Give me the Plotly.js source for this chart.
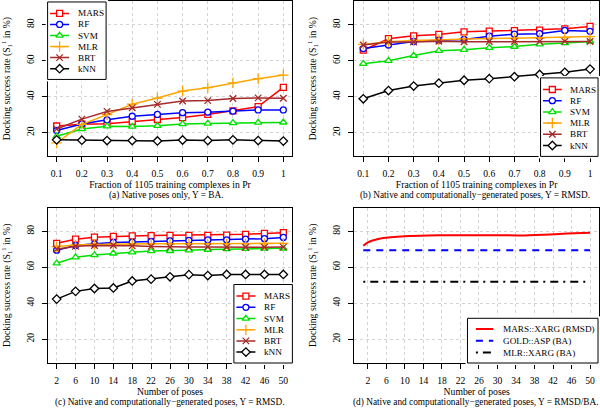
<!DOCTYPE html>
<html><head><meta charset="utf-8">
<script src="https://cdn.plot.ly/plotly-3.0.1.min.js"></script>
<style>html,body{margin:0;padding:0;background:#fff}#chart{width:600px;height:408px}</style>
</head><body><div id="chart"></div>
<script>
// ---------- data ----------
const seriesNames = ['MARS','RF','SVM','MLR','BRT','kNN'];
const fractions = [0.1,0.2,0.3,0.4,0.5,0.6,0.7,0.8,0.9,1];
const fractionLabels = ['0.1','0.2','0.3','0.4','0.5','0.6','0.7','0.8','0.9','1'];
const poses = [2,6,10,14,18,22,26,30,34,38,42,46,50];
const poseLabels = ['2','6','10','14','18','22','26','30','34','38','42','46','50'];
const yTicks = [20,40,60,80];
const yTickLabels = ['20','40','60','80'];

// (a) native poses only, Y = BA
const aMARS = [23.7,24.7,25.0,26.2,27.3,28.4,30.1,32.1,34.5,45.2];
const aRF   = [21.2,24.8,27.1,29.1,30.1,31.1,31.4,32.0,32.6,32.6];
const aSVM  = [18.0,22.0,23.6,23.4,23.8,24.8,25.1,25.4,25.6,25.7];
const aMLR  = [14.3,24.6,30.0,35.8,39.2,43.1,45.0,47.7,50.0,52.0];
const aBRT  = [22.0,27.5,31.8,33.8,35.7,37.6,37.8,39.0,39.3,39.1];
const aKNN  = [16.0,15.8,15.6,15.6,15.4,15.9,15.6,16.0,15.6,15.3];

// (b) native + generated poses, Y = RMSD, vs fraction
const bMARS = [65.8,72.2,73.8,74.6,76.0,76.4,76.7,77.0,77.7,79.0];
const bRF   = [66.7,68.7,70.6,71.3,71.8,73.6,74.7,75.0,76.8,76.3];
const bSVM  = [58.3,60.0,62.8,65.5,66.1,67.2,67.8,69.1,69.8,70.7];
const bMLR  = [69.0,70.5,71.2,71.6,72.1,72.3,72.4,72.6,72.8,73.4];
const bBRT  = [68.7,70.3,70.4,70.8,70.5,70.6,70.6,70.7,70.7,70.6];
const bKNN  = [38.8,43.4,45.9,47.5,49.1,50.0,51.1,52.3,53.5,55.3];

// (c) native + generated poses, Y = RMSD, vs number of poses
const cMARS = [73.3,75.6,76.7,77.2,77.4,77.6,77.7,77.7,77.7,77.9,78.3,78.8,79.2];
const cRF   = [69.5,72.1,73.0,73.8,74.0,74.3,74.7,74.9,75.2,75.2,75.6,75.9,76.6];
const cSVM  = [62.2,65.6,66.8,67.7,68.3,69.0,69.1,69.4,69.8,70.1,70.3,70.4,70.5];
const cMLR  = [71.5,72.4,72.7,72.9,73.0,73.0,73.0,73.1,73.1,73.1,73.1,73.2,73.3];
const cBRT  = [70.0,71.7,72.1,72.2,71.9,71.6,71.3,71.3,71.3,71.1,71.1,71.1,71.2];
const cKNN  = [42.3,46.6,48.2,48.5,52.4,53.4,54.7,55.9,55.4,56.0,56.0,56.0,56.0];

// (d) comparison
const dNames = ['MARS::XARG (RMSD)','GOLD::ASP (BA)','MLR::XARG (BA)'];
const dPoses = [1,2,3,4,5,7,10,15,20,25,30,35,40,45,50];
const dMARS  = [71.9,73.8,74.9,75.6,76.1,76.7,77.2,77.6,77.8,77.8,77.8,77.7,78.1,78.7,79.2];
const dPoseSpan = [1,50];
const dGOLD  = [69.5,69.5];
const dMLR   = [52.0,52.0];

// ---------- styling ----------
const W = 600, H = 408;
const FONT = '"Liberation Serif","Times New Roman",serif';
const FS_TICK = 9.6, FS_TITLE = 9.7, FS_CAP = 9.3, FS_LEG = 9.2;
const colors = ['#FF0000','#0000FF','#00E000','#FFA500','#A52A2A','#000000'];
const symbols = ['square','circle','triangle-up','cross-thin','x-thin','diamond'];
const msize = [6,6,6.5,7.5,6.5,6.5];
const dColors = ['#FF0000','#0000FF','#000000'];
const dDash = ['solid','7px,6px','2px,5px,8px,5px'];
const fx = p => p / W;
const fy = p => 1 - p / H;
const axKey = (id) => (id.length === 1 ? id + 'axis' : id[0] + 'axis' + id.slice(1));

const panels = [
  {xa:'x', ya:'y', box:[47.6,292.4,0.9,156.4], xr:[0.064,1.036], tv:fractions, tt:fractionLabels,
   xt:'Fraction of 1105 training complexes in Pr', cap:'(a) Native poses only, Y = BA.', capX:166},
  {xa:'x2', ya:'y2', box:[354.2,599.1,0.9,156.4], xr:[0.064,1.036], tv:fractions, tt:fractionLabels,
   xt:'Fraction of 1105 training complexes in Pr', cap:'(b) Native and computationally\u2212generated poses, Y = RMSD.', capX:474.5},
  {xa:'x3', ya:'y3', box:[47.6,292.4,207.5,363], xr:[0.08,51.92], tv:poses, tt:poseLabels,
   xt:'Number of poses', cap:'(c) Native and computationally\u2212generated poses, Y = RMSD.', capX:170},
  {xa:'x4', ya:'y4', box:[354.2,599.1,207.5,363], xr:[-0.96,51.96], tv:poses, tt:poseLabels,
   xt:'Number of poses', cap:'(d) Native and computationally\u2212generated poses, Y = RMSD/BA.', capX:475.5}
];

const layout = {
  width: W, height: H, margin:{l:0,r:0,t:0,b:0},
  paper_bgcolor:'#ffffff', plot_bgcolor:'#ffffff', showlegend:false,
  font:{family:FONT, size:FS_TICK, color:'#000'},
  shapes:[], annotations:[]
};

const gridStyle = {showgrid:true, gridcolor:'#d3d3d3', griddash:'dot', gridwidth:1};
const lineStyle = {showline:true, linecolor:'#000', linewidth:1, mirror:true, zeroline:false,
  ticks:'outside', ticklen:5, tickwidth:1, tickcolor:'#000', fixedrange:true,
  tickfont:{family:FONT, size:FS_TICK, color:'#000'}};

panels.forEach(p => {
  const [x0,x1,y0,y1] = p.box;
  layout[axKey(p.xa)] = Object.assign({}, lineStyle, gridStyle, {
    domain:[fx(x0), fx(x1)], anchor:p.ya, range:p.xr,
    tickmode:'array', tickvals:p.tv, ticktext:p.tt, ticklabelstandoff:3,
    title:{text:p.xt, font:{family:FONT, size:FS_TITLE, color:'#000'}, standoff:1}
  });
  layout[axKey(p.ya)] = Object.assign({}, lineStyle, gridStyle, {
    domain:[fy(y1), fy(y0)], anchor:p.xa, range:[6.8,93.2],
    tickmode:'array', tickvals:yTicks, ticktext:yTickLabels, tickangle:-90, ticklabelstandoff:4,
    title:{text:'Docking success rate (S<sub>1</sub><sup>1</sup> in %)', font:{family:FONT, size:FS_TITLE, color:'#000'}, standoff:12}
  });
  layout.annotations.push({xref:'paper', yref:'paper', x:fx(p.capX), y:fy(y1 + 39.5),
    xanchor:'center', yanchor:'middle', showarrow:false, text:p.cap,
    font:{family:FONT, size:FS_CAP, color:'#000'}});
});

const traces = [];
function addSeries(xv, ys, xa, ya) {
  ys.forEach((yv, i) => {
    traces.push({type:'scatter', mode:'lines+markers', x:xv, y:yv, xaxis:xa, yaxis:ya,
      name:seriesNames[i], showlegend:false, cliponaxis:false,
      line:{color:colors[i], width:1.5},
      marker:{symbol:symbols[i], size:msize[i], color:'#ffffff', line:{color:colors[i], width:1.3}}});
  });
}
addSeries(fractions, [aMARS,aRF,aSVM,aMLR,aBRT,aKNN], 'x', 'y');
addSeries(fractions, [bMARS,bRF,bSVM,bMLR,bBRT,bKNN], 'x2', 'y2');
addSeries(poses, [cMARS,cRF,cSVM,cMLR,cBRT,cKNN], 'x3', 'y3');

traces.push({type:'scatter', mode:'lines', x:dPoses, y:dMARS, xaxis:'x4', yaxis:'y4', name:dNames[0],
  line:{color:dColors[0], width:2, shape:'spline', smoothing:0.8}});
traces.push({type:'scatter', mode:'lines', x:dPoseSpan, y:dGOLD, xaxis:'x4', yaxis:'y4', name:dNames[1],
  line:{color:dColors[1], width:2, dash:dDash[1]}});
traces.push({type:'scatter', mode:'lines', x:dPoseSpan, y:dMLR, xaxis:'x4', yaxis:'y4', name:dNames[2],
  line:{color:dColors[2], width:2, dash:dDash[2]}});

// ---------- legends (boxes in pixel units on helper axes) ----------
const legends = [
  {id:5, left:47.6,  top:0.9,   w:58.5,  h:78.5, kind:'six'},
  {id:6, left:540.6, top:77.9,  w:58.5,  h:78.5, kind:'six'},
  {id:7, left:233.9, top:284.5, w:58.5,  h:78.5, kind:'six'},
  {id:8, left:467.5, top:318.3, w:131.6, h:44.7, kind:'three'}
];
const PAD = 2;
legends.forEach(L => {
  const xa = 'x' + L.id, ya = 'y' + L.id;
  layout[axKey(xa)] = {visible:false, domain:[fx(L.left-PAD), Math.min(1, fx(L.left+L.w+PAD))], range:[-PAD, Math.min(L.w+PAD, W-L.left+PAD)], anchor:ya, fixedrange:true};
  layout[axKey(ya)] = {visible:false, domain:[fy(L.top+L.h+PAD), fy(L.top-PAD)], range:[L.h+PAD, -PAD], anchor:xa, fixedrange:true};
  layout.shapes.push({type:'rect', xref:xa, yref:ya, x0:0, x1:L.w, y0:0, y1:L.h, layer:'below',
    fillcolor:'#ffffff', line:{color:'#000', width:1}});
  if (L.kind === 'six') {
    seriesNames.forEach((n, i) => {
      const ry = 11.6 + 11.2 * i;
      traces.push({type:'scatter', mode:'lines', x:[2.5,21.5], y:[ry,ry], xaxis:xa, yaxis:ya, showlegend:false,
        line:{color:colors[i], width:1.5}});
      traces.push({type:'scatter', mode:'markers', x:[12], y:[ry], xaxis:xa, yaxis:ya, showlegend:false,
        marker:{symbol:symbols[i], size:msize[i], color:'#ffffff', line:{color:colors[i], width:1.3}}});
      layout.annotations.push({xref:xa, yref:ya, x:28, y:ry, xanchor:'left', yanchor:'middle', showarrow:false,
        text:n, font:{family:FONT, size:FS_LEG, color:'#000'}});
    });
  } else {
    dNames.forEach((n, i) => {
      const ry = 10.8 + 11.7 * i;
      traces.push({type:'scatter', mode:'lines', x:[8.5,26], y:[ry,ry], xaxis:xa, yaxis:ya, showlegend:false,
        line:{color:dColors[i], width:2, dash:dDash[i]}});
      layout.annotations.push({xref:xa, yref:ya, x:33.5, y:ry, xanchor:'left', yanchor:'middle', showarrow:false,
        text:n, font:{family:FONT, size:FS_LEG, color:'#000'}});
    });
  }
});

Plotly.newPlot('chart', traces, layout, {staticPlot:true, displayModeBar:false});
</script>
</body></html>
